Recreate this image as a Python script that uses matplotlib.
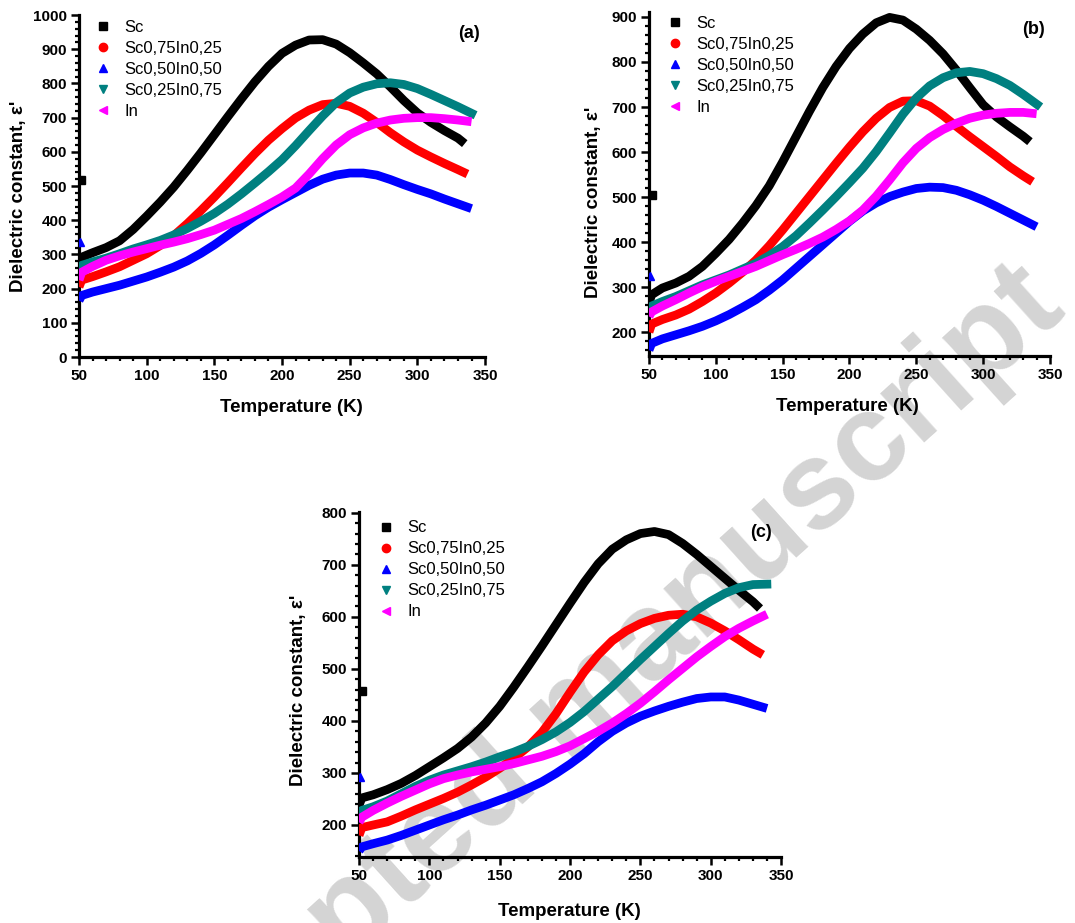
import matplotlib
matplotlib.use("Agg")
import matplotlib.pyplot as plt
from matplotlib.lines import Line2D
from matplotlib.ticker import MultipleLocator

plt.rcParams['font.family'] = ['Liberation Sans', 'DejaVu Sans']

# ---------------- data ----------------
T = [50, 52, 60, 70, 80, 90, 100, 110, 120, 130, 140, 150, 160, 170, 180,
     190, 200, 210, 220, 230, 240, 250, 260, 270, 280, 290, 300, 310, 320, 330]
series_names = ["Sc", "Sc0,75In0,25", "Sc0,50In0,50", "Sc0,25In0,75", "In"]
series_colors = ["#000000", "#ff0000", "#0000ff", "#008080", "#ff00ff"]
series_markers = ["s", "o", "^", "v", "<"]
end_T = [335, 337, 340, 343, 340]

# panel (a)
a_sc = [275, 292, 305, 320, 340, 373, 412, 453, 497, 546, 597, 650, 703, 755, 805,
        850, 888, 912, 927, 928, 915, 890, 860, 828, 790, 750, 714, 686, 662, 640]
a_red = [205, 225, 235, 249, 264, 283, 302, 326, 355, 390, 428, 468, 510, 553, 595,
         634, 668, 699, 722, 738, 742, 733, 713, 686, 656, 629, 605, 585, 566, 548]
a_blue = [165, 180, 190, 200, 210, 222, 234, 248, 263, 281, 303, 328, 356, 385, 413,
          438, 460, 481, 502, 520, 532, 538, 538, 532, 519, 504, 490, 477, 462, 448]
a_teal = [258, 268, 278, 289, 302, 316, 328, 341, 357, 376, 397, 420, 447, 477, 509,
          542, 577, 618, 662, 705, 744, 772, 789, 799, 802, 797, 785, 768, 750, 732]
a_mag = [225, 248, 265, 283, 296, 307, 317, 327, 336, 346, 358, 371, 388, 405, 425,
         446, 468, 494, 535, 580, 620, 650, 670, 684, 693, 698, 700, 700, 697, 693]
a_end = [624, 535, 434, 707, 688]
a_outliers = [(51.5, 519, 0), (51, 335, 2)]

# panel (b)
b_sc = [265, 283, 298, 309, 324, 346, 375, 406, 442, 481, 525, 578, 634, 690, 743,
        790, 830, 862, 887, 899, 893, 873, 848, 818, 782, 743, 705, 678, 656, 635]
b_red = [200, 218, 228, 238, 251, 268, 287, 309, 333, 360, 392, 427, 464, 501, 538,
         575, 611, 645, 675, 699, 713, 714, 702, 681, 657, 634, 612, 590, 567, 547]
b_blue = [160, 175, 185, 194, 203, 213, 225, 239, 255, 272, 293, 316, 342, 368, 394,
          420, 446, 469, 487, 501, 511, 519, 522, 521, 515, 505, 493, 479, 464, 449]
b_teal = [250, 258, 268, 279, 292, 305, 316, 327, 340, 353, 370, 390, 414, 442, 471,
          501, 532, 564, 601, 642, 684, 720, 747, 765, 776, 779, 774, 763, 748, 728]
b_mag = [235, 245, 258, 272, 287, 301, 313, 324, 335, 346, 359, 372, 384, 397, 411,
         428, 447, 471, 502, 538, 576, 608, 632, 650, 664, 675, 682, 686, 688, 688]
b_end = [623, 534, 434, 700, 685]
b_outliers = [(52, 505, 0), (51, 325, 2)]

# panel (c)
c_sc = [238, 252, 258, 268, 280, 295, 312, 329, 347, 369, 396, 428, 465, 504, 544,
        585, 626, 666, 702, 730, 748, 760, 764, 758, 741, 720, 697, 674, 651, 629]
c_red = [180, 195, 200, 206, 217, 229, 240, 251, 263, 277, 292, 309, 328, 350, 378,
         414, 455, 494, 527, 554, 573, 587, 597, 603, 605, 600, 588, 573, 556, 538]
c_blue = [150, 158, 164, 171, 180, 190, 200, 210, 219, 229, 238, 248, 258, 270, 283,
          299, 317, 337, 360, 380, 396, 409, 419, 428, 436, 443, 446, 446, 440, 432]
c_teal = [222, 228, 235, 246, 260, 274, 286, 296, 304, 312, 321, 331, 340, 351, 364,
          379, 397, 418, 442, 466, 492, 518, 543, 568, 592, 613, 630, 645, 656, 662]
c_mag = [205, 215, 228, 242, 255, 267, 279, 289, 296, 302, 307, 312, 318, 325, 332,
         341, 352, 366, 380, 396, 414, 434, 456, 479, 501, 523, 543, 562, 578, 592]
c_end = [616, 527, 424, 663, 605]
c_outliers = [(52, 457, 0), (51, 292, 2)]

panels = [
    dict(label="(a)", data=[a_sc, a_red, a_blue, a_teal, a_mag], end=a_end, out=a_outliers,
         rect=[0.0735, 0.6132, 0.3777, 0.3705], ylim=(0, 1000), yticks=range(0, 1001, 100),
         ylab=(-0.128, 0.47), xlab=(0.522, -0.123), plab=(0.961, 0.947), leg=(0.038, 0.985)),
    dict(label="(b)", data=[b_sc, b_red, b_blue, b_teal, b_mag], end=b_end, out=b_outliers,
         rect=[0.6037, 0.6143, 0.3730, 0.3727], ylim=(147, 911), yticks=range(200, 901, 100),
         ylab=(-0.117, 0.448), xlab=(0.496, -0.122), plab=(0.958, 0.948), leg=(0.043, 0.988)),
    dict(label="(c)", data=[c_sc, c_red, c_blue, c_teal, c_mag], end=c_end, out=c_outliers,
         rect=[0.3340, 0.0718, 0.3926, 0.3738], ylim=(139, 802), yticks=range(200, 801, 100),
         ylab=(-0.123, 0.483), xlab=(0.498, -0.133), plab=(0.953, 0.941), leg=(0.044, 0.975)),
]

fig = plt.figure(figsize=(10.75, 9.23), dpi=100)

# watermark (behind the plots)
fig.text(0.534, 0.226, "Accepted manuscript", fontsize=90, fontweight='bold',
         color="#d4d4d4", rotation=42, ha='center', va='center',
         rotation_mode='anchor', zorder=-10)

for p in panels:
    ax = fig.add_axes(p["rect"])
    ax.patch.set_visible(False)
    for i, vals in enumerate(p["data"]):
        xs = T + [end_T[i]]
        ys = vals + [p["end"][i]]
        ax.plot(xs, ys, color=series_colors[i], lw=6.3, solid_capstyle='butt',
                solid_joinstyle='round', zorder=2 + i)
    for (ox, oy, si) in p["out"]:
        ax.plot([ox], [oy], ls='none', marker=series_markers[si], ms=6,
                color=series_colors[si], zorder=8)
    ax.set_xlim(50, 350)
    ax.set_ylim(*p["ylim"])
    ax.set_xticks(range(50, 351, 50))
    ax.set_yticks(list(p["yticks"]))
    ax.xaxis.set_minor_locator(MultipleLocator(10))
    ax.yaxis.set_minor_locator(MultipleLocator(20))
    for s in ["top", "right"]:
        ax.spines[s].set_visible(False)
    for s in ["left", "bottom"]:
        ax.spines[s].set_linewidth(2.3)
    ax.tick_params(which='major', direction='out', length=5.5, width=1.8,
                   labelsize=11, pad=3)
    ax.tick_params(which='minor', direction='out', length=3, width=1.6)
    for lab in ax.get_xticklabels() + ax.get_yticklabels():
        lab.set_fontweight('bold')
    ax.set_xlabel("Temperature (K)", fontsize=13.5, fontweight='bold')
    ax.set_ylabel("Dielectric constant, ε'", fontsize=13.5, fontweight='bold')
    ax.xaxis.set_label_coords(*p["xlab"])
    ax.yaxis.set_label_coords(*p["ylab"])
    ax.text(p["plab"][0], p["plab"][1], p["label"], transform=ax.transAxes,
            fontsize=13, fontweight='bold', ha='center', va='center')
    handles = [Line2D([], [], ls='none', marker=series_markers[i], ms=6,
                      color=series_colors[i], label=series_names[i])
               for i in range(5)]
    ax.legend(handles=handles, loc='upper left', bbox_to_anchor=p["leg"],
              frameon=False, fontsize=12, borderpad=0, labelspacing=0.36,
              handlelength=1.0, handletextpad=0.8, borderaxespad=0)

fig.savefig("out.png", dpi=100)
